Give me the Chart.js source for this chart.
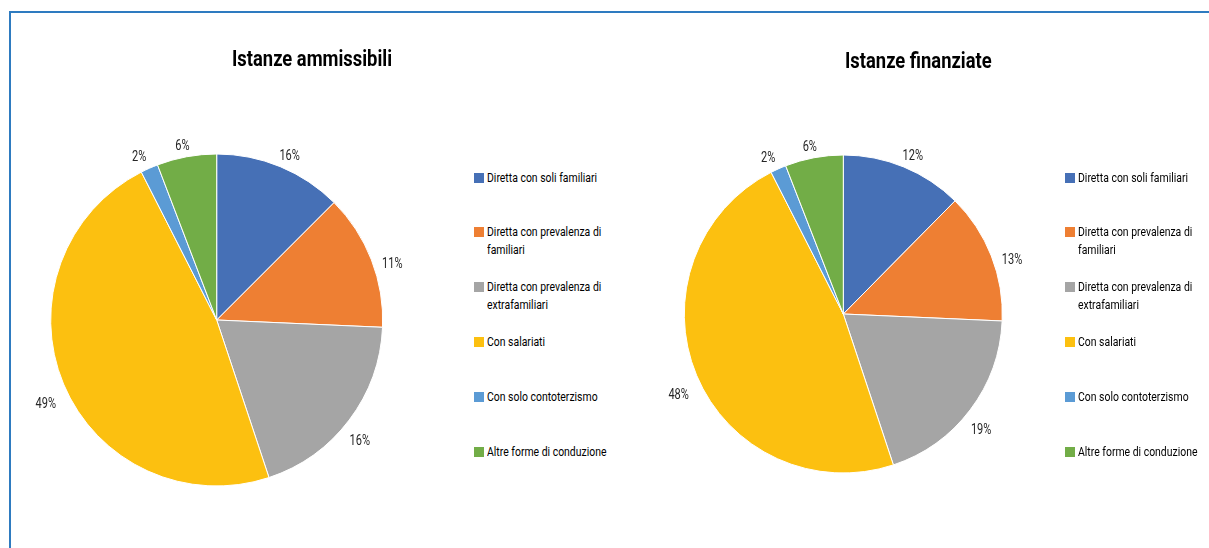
<!DOCTYPE html>
<html><head><meta charset="utf-8">
<script src="https://cdn.jsdelivr.net/npm/chart.js@4.4.1/dist/chart.umd.min.js"></script>
<style>
html,body{margin:0;padding:0;background:#fff;width:1209px;height:548px;overflow:hidden;}
#frame{position:absolute;left:9px;top:11px;width:1300px;height:700px;border-top:2px solid #2e7bc0;border-left:2px solid #2e7bc0;box-sizing:border-box;}
canvas{position:absolute;}
.title{position:absolute;font-weight:bold;color:#000;white-space:nowrap;}
.lg{position:absolute;color:#000;white-space:nowrap;}
.sw{position:absolute;width:10px;height:10px;}
</style>
</head><body>
<div id="frame"></div>
<script>
// ---- data ----
const categories = [
  ["Diretta con soli familiari"],
  ["Diretta con prevalenza di", "familiari"],
  ["Diretta con prevalenza di", "extrafamiliari"],
  ["Con salariati"],
  ["Con solo contoterzismo"],
  ["Altre forme di conduzione"]
];
const titles = ["Istanze ammissibili", "Istanze finanziate"];
const ammissibiliShares = [12.5, 13.2, 19.2, 47.6, 1.7, 5.8];
const finanziateShares  = [12.4, 13.3, 19.2, 47.6, 1.6, 5.9];
const ammissibiliLabels = ["16%", "11%", "16%", "49%", "2%", "6%"];
const finanziateLabels  = ["12%", "13%", "19%", "48%", "2%", "6%"];

// ---- styles ----
const colors = ["#4670B6", "#EE7F33", "#A5A5A5", "#FCC010", "#5B9BD5", "#72AD47"];
const FONT = 'Roboto, "Liberation Sans", sans-serif';
const TXT_SIZE = 13.5, LBL_SIZE = 14, TITLE_SIZE = 22.5;

// measure to emulate a condensed face
const mctx = document.createElement('canvas').getContext('2d');
function textW(t, font) { mctx.font = font; return mctx.measureText(t).width; }
const TXT_SX = 110 / textW("Diretta con soli familiari", TXT_SIZE + 'px ' + FONT);
const LBL_SX = 20.5 / textW("49%", LBL_SIZE + 'px ' + FONT);
const TITLE_SX = 160 / textW("Istanze ammissibili", 'bold ' + TITLE_SIZE + 'px ' + FONT);

// ---- layout ----
const panels = [
  {shares: ammissibiliShares, texts: ammissibiliLabels, title: titles[0],
   cx: 216.7, cy: 320, r: 166, canvasLeft: 10, titleX: 312, titleY: 58, legendSwX: 474, legendTxtX: 487},
  {shares: finanziateShares, texts: finanziateLabels, title: titles[1],
   cx: 843.3, cy: 314, r: 159, canvasLeft: 620, titleX: 918, titleY: 60, legendSwX: 1065, legendTxtX: 1078}
];
const CANVAS_TOP = 12, CANVAS_W = 460, CANVAS_H = 536;
const LEGEND_Y0 = 177.5, LEGEND_STEP = 54.8, LINE_H = 18;

const outsideLabels = {
  id: 'outsideLabels',
  afterDatasetsDraw(chart, args, opts) {
    const ctx = chart.ctx;
    const meta = chart.getDatasetMeta(0);
    ctx.save();
    ctx.font = LBL_SIZE + 'px ' + FONT;
    ctx.fillStyle = '#262626';
    ctx.textAlign = 'center';
    ctx.textBaseline = 'middle';
    const h = 10;
    meta.data.forEach((arc, i) => {
      const p = arc.getProps(['x','y','startAngle','endAngle','outerRadius'], true);
      const mid = (p.startAngle + p.endAngle) / 2;
      const a = mid + (4 * Math.PI / 180) * Math.cos(mid);
      const ux = Math.cos(a), uy = Math.sin(a);
      const t = opts.texts[i];
      const w = ctx.measureText(t).width * LBL_SX;
      const gap = 8 + 4 * uy + 4 * Math.max(-ux, 0);
      const d = p.outerRadius + gap + Math.abs(ux) * w / 2 + Math.abs(uy) * h / 2;
      ctx.save();
      ctx.translate(p.x + ux * d, p.y + uy * d);
      ctx.scale(LBL_SX, 1);
      ctx.fillText(t, 0, 0);
      ctx.restore();
    });
    ctx.restore();
  }
};

panels.forEach(pn => {
  const cv = document.createElement('canvas');
  cv.width = CANVAS_W; cv.height = CANVAS_H;
  cv.style.left = pn.canvasLeft + 'px'; cv.style.top = CANVAS_TOP + 'px';
  cv.style.width = CANVAS_W + 'px'; cv.style.height = CANVAS_H + 'px';
  document.body.appendChild(cv);
  const lx = pn.cx - pn.canvasLeft, ly = pn.cy - CANVAS_TOP, H = pn.r + 30;
  new Chart(cv, {
    type: 'pie',
    data: {
      labels: categories,
      datasets: [{data: pn.shares, backgroundColor: colors, borderColor: '#ffffff', borderWidth: 1, hoverOffset: 0, offset: 0}]
    },
    options: {
      responsive: false, animation: false, devicePixelRatio: 1,
      radius: pn.r,
      layout: {padding: {left: lx - H, right: CANVAS_W - lx - H, top: ly - H, bottom: CANVAS_H - ly - H}},
      plugins: {legend: {display: false}, title: {display: false}, tooltip: {enabled: false},
                outsideLabels: {texts: pn.texts}},
      events: []
    },
    plugins: [outsideLabels]
  });
  const t = document.createElement('div');
  t.className = 'title';
  t.style.font = 'bold ' + TITLE_SIZE + 'px ' + FONT;
  t.style.lineHeight = '26px';
  t.textContent = pn.title;
  const tw = textW(pn.title, 'bold ' + TITLE_SIZE + 'px ' + FONT) * TITLE_SX;
  t.style.left = (pn.titleX - tw / 2) + 'px';
  t.style.top = (pn.titleY - 13) + 'px';
  t.style.transformOrigin = '0 0';
  t.style.transform = 'scaleX(' + TITLE_SX + ')';
  document.body.appendChild(t);
  categories.forEach((lines, i) => {
    const yc = LEGEND_Y0 + i * LEGEND_STEP;
    const sw = document.createElement('div');
    sw.className = 'sw';
    sw.style.background = colors[i];
    sw.style.left = pn.legendSwX + 'px';
    sw.style.top = (yc - 5) + 'px';
    document.body.appendChild(sw);
    const lg = document.createElement('div');
    lg.className = 'lg';
    lg.style.font = TXT_SIZE + 'px ' + FONT;
    lg.style.lineHeight = LINE_H + 'px';
    lg.style.transformOrigin = '0 0';
    lg.style.transform = 'scaleX(' + TXT_SX + ')';
    lg.innerHTML = lines.join('<br>');
    lg.style.left = pn.legendTxtX + 'px';
    lg.style.top = (yc - LINE_H / 2 - 1) + 'px';
    document.body.appendChild(lg);
  });
});
</script>
</body></html>
